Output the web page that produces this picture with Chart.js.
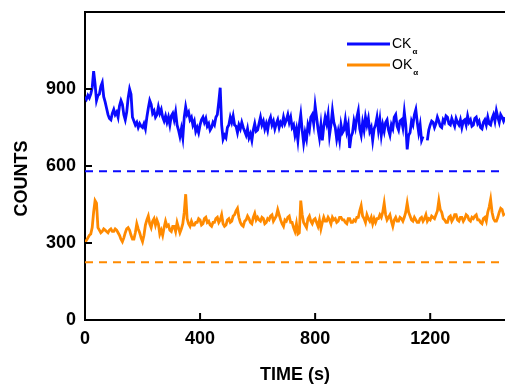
<!DOCTYPE html>
<html>
<head>
<meta charset="utf-8">
<script src="https://cdn.jsdelivr.net/npm/chart.js@4.4.1/dist/chart.umd.min.js"></script>
<style>
  body { margin: 0; background: #fff; }
  #wrap { width: 505px; height: 386px; }
</style>
</head>
<body>
<div id="wrap"><canvas id="myChart"></canvas></div>
<script>
// time axis, one sample every 5 s
var time = Array.from({ length: 293 }, function (_, i) { return i * 5; });

var ck = [
    870, 860, 875, 865, 880, 905, 970, 920, 855, 875, 880, 910, 925, 870, 850, 825, 800, 785, 780, 805,
    820, 800, 810, 790, 835, 855, 840, 800, 780, 810, 865, 900, 880, 790, 775, 760, 770, 750, 765, 755,
    750, 765, 745, 790, 825, 855, 840, 805, 815, 790, 800, 830, 805, 820, 790, 775, 795, 770, 790, 760,
    795, 805, 780, 810, 760, 740, 715, 745, 710, 790, 830, 800, 810, 780, 790, 760, 775, 735, 750, 730,
    760, 780, 790, 770, 785, 755, 765, 740, 750, 770, 760, 790, 800, 850, 905, 760, 705, 720, 710, 750,
    760, 790, 770, 795, 760, 755, 730, 760, 745, 770, 750, 735, 720, 745, 710, 725, 700, 740, 765, 735,
    740, 765, 790, 760, 775, 745, 765, 740, 775, 790, 760, 775, 745, 765, 780, 750, 770, 760, 790, 765,
    780, 800, 770, 790, 750, 760, 720, 745, 700, 760, 800, 740, 690, 730, 705, 760, 740, 790, 800, 765,
    835, 790, 745, 710, 760, 700, 755, 790, 765, 800, 720, 760, 815, 770, 750, 705, 735, 700, 760, 730,
    740, 780, 735, 760, 670, 715, 730, 775, 750, 790, 815, 745, 720, 770, 740, 790, 760, 785, 735, 750,
    700, 745, 760, 790, 740, 780, 720, 760, 735, 770, 780, 740, 720, 760, 745, 790, 800, 755, 740, 775,
    780, 750, 810, 760, 665, 720, 730, 775, 760, 800, 820, 770, 730, 760, 700, 715, null, null, 700, 740,
    760, 775, 770, 750, 765, 790, 775, 755, 750, 780, 770, 795, 790, 765, 760, 785, 770, 755, 785, 770,
    760, 780, 750, 775, 780, 760, 795, 770, 780, 755, 760, 785, 790, 765, 775, 750, 745, 770, 780, 760,
    790, 765, 760, 785, 800, 775, 815, 790, 770, 800, 790, 775, 790
];

var ok = [
    305, 310, 320, 330, 335, 360, 420, 465, 455, 360, 350, 340, 345, 355, 350, 345, 340, 350, 355, 345,
    345, 355, 350, 340, 330, 315, 305, 320, 340, 355, 360, 350, 330, 315, 315, 340, 375, 355, 340, 320,
    305, 330, 370, 390, 405, 375, 360, 385, 395, 370, 390, 375, 335, 350, 330, 360, 385, 365, 370, 350,
    345, 365, 365, 345, 380, 360, 340, 355, 375, 420, 490, 395, 375, 365, 385, 370, 370, 380, 380, 395,
    390, 370, 375, 395, 400, 380, 385, 370, 365, 380, 380, 395, 400, 380, 390, 410, 375, 365, 370, 390,
    395, 380, 385, 405, 410, 425, 435, 400, 380, 370, 365, 385, 390, 405, 395, 380, 375, 400, 415, 390,
    400, 390, 385, 400, 395, 375, 380, 395, 390, 405, 410, 385, 395, 405, 430, 410, 390, 375, 365, 390,
    385, 400, 405, 380, 380, 360, 345, 375, 335, 340, 465, 410, 380, 370, 360, 395, 405, 385, 375, 390,
    395, 380, 365, 390, 355, 380, 400, 385, 385, 400, 390, 375, 400, 390, 395, 380, 385, 400, 400, 390,
    390, 380, 375, 395, 395, 380, 380, 390, 385, 400, 400, 425, 445, 405, 395, 380, 410, 395, 385, 400,
    375, 395, 380, 395, 395, 410, 400, 420, 455, 410, 390, 400, 410, 385, 365, 390, 400, 385, 385, 400,
    395, 385, 400, 420, 455, 420, 405, 390, 385, 400, 390, 380, 380, 395, 400, 385, 395, 410, 385, 395,
    390, 405, 400, 395, 410, 425, 465, 430, 420, 395, 390, 380, 380, 400, 405, 385, 395, 410, 410, 390,
    385, 400, 400, 385, 395, 410, 405, 390, 385, 400, 395, 405, 410, 390, 390, 380, 375, 395, 400, 385,
    420, 440, 470, 420, 395, 385, 385, 400, 420, 435, 430, 410, 415
];

var ckLevel = 580;
var okLevel = 225;

var xTicks = [0, 400, 800, 1200];
var yTicks = [0, 300, 600, 900];
var xMax = 1460;
var yMax = 1200;

var names = ['CK', 'OK'];
var blue = '#0a0aff';
var orange = '#ff8a00';

function pts(arr) {
    return time.map(function (t, i) { return { x: t, y: arr[i] }; });
}
function level(v) {
    return [{ x: 0, y: v }, { x: xMax, y: v }];
}

var boldFont = { family: 'Liberation Sans, Arial, sans-serif', size: 18, weight: 'bold' };

var framePlugin = {
    id: 'frame',
    afterDraw: function (chart) {
        var ctx = chart.ctx;
        var a = chart.chartArea;
        var xs = chart.scales.x, ys = chart.scales.y;
        ctx.save();
        ctx.strokeStyle = '#000';
        ctx.lineWidth = 2;
        ctx.beginPath();
        ctx.moveTo(a.left - 1, a.top);
        ctx.lineTo(a.right, a.top);
        ctx.stroke();
        // inward tick marks
        ctx.beginPath();
        xTicks.slice(1).forEach(function (v) {
            var px = xs.getPixelForValue(v);
            ctx.moveTo(px, a.bottom);
            ctx.lineTo(px, a.bottom - 7);
        });
        yTicks.slice(1).forEach(function (v) {
            var py = ys.getPixelForValue(v);
            ctx.moveTo(a.left, py);
            ctx.lineTo(a.left + 7, py);
        });
        ctx.stroke();
        // legend
        var cols = [blue, orange];
        names.forEach(function (n, i) {
            var y = 44 + i * 21;
            ctx.strokeStyle = cols[i];
            ctx.lineWidth = 3;
            ctx.beginPath();
            ctx.moveTo(347, y);
            ctx.lineTo(390, y);
            ctx.stroke();
            ctx.fillStyle = '#000';
            ctx.textBaseline = 'middle';
            ctx.font = '14px Liberation Sans, Arial, sans-serif';
            ctx.fillText(n, 392, y);
            var w = ctx.measureText(n).width;
            ctx.font = 'bold 8px Liberation Sans, Arial, sans-serif';
            ctx.fillText('α', 392 + w + 1, y + 8);
        });
        ctx.restore();
    }
};

new Chart('myChart', {
    type: 'line',
    data: {
        datasets: [{
            label: 'CK', data: pts(ck), borderColor: blue, borderWidth: 2.8, spanGaps: false
        }, {
            label: 'OK', data: pts(ok), borderColor: orange, borderWidth: 2.8
        }, {
            label: 'CK level', data: level(ckLevel), borderColor: blue, borderWidth: 2, borderDash: [8, 6]
        }, {
            label: 'OK level', data: level(okLevel), borderColor: orange, borderWidth: 2, borderDash: [8, 6]
        }]
    },
    options: {
        responsive: true,
        maintainAspectRatio: false,
        animation: false,
        elements: { point: { radius: 0 }, line: { tension: 0 } },
        layout: { padding: { top: 12, right: 0, left: 0, bottom: 0 } },
        plugins: { legend: { display: false }, tooltip: { enabled: false } },
        scales: {
            x: {
                type: 'linear', min: 0, max: xMax,
                afterBuildTicks: function (s) { s.ticks = xTicks.map(function (v) { return { value: v }; }); },
                afterFit: function (s) { s.height = 66; s.paddingLeft = 0; s.paddingRight = 0; },
                grid: { display: false, drawTicks: false },
                border: { display: true, color: '#000', width: 2 },
                ticks: {
                    font: boldFont, color: '#000', padding: 8, maxRotation: 0, autoSkip: false,
                    callback: function (v) { return String(v); }
                },
                title: { display: true, text: 'TIME (s)', font: boldFont, color: '#000', padding: { top: 0, bottom: 0 } }
            },
            y: {
                min: 0, max: yMax,
                afterBuildTicks: function (s) { s.ticks = yTicks.map(function (v) { return { value: v }; }); },
                afterFit: function (s) { s.width = 85; s.paddingTop = 0; s.paddingBottom = 0; },
                grid: { display: false, drawTicks: false },
                border: { display: true, color: '#000', width: 2 },
                ticks: { font: boldFont, color: '#000', padding: 9, callback: function (v) { return String(v); } },
                // trailing spaces push the rotated title a little lower, as in the original
                title: { display: true, text: 'COUNTS     ', font: boldFont, color: '#000', padding: { top: 11, bottom: 0 } }
            }
        }
    },
    plugins: [framePlugin]
});
</script>
</body>
</html>
